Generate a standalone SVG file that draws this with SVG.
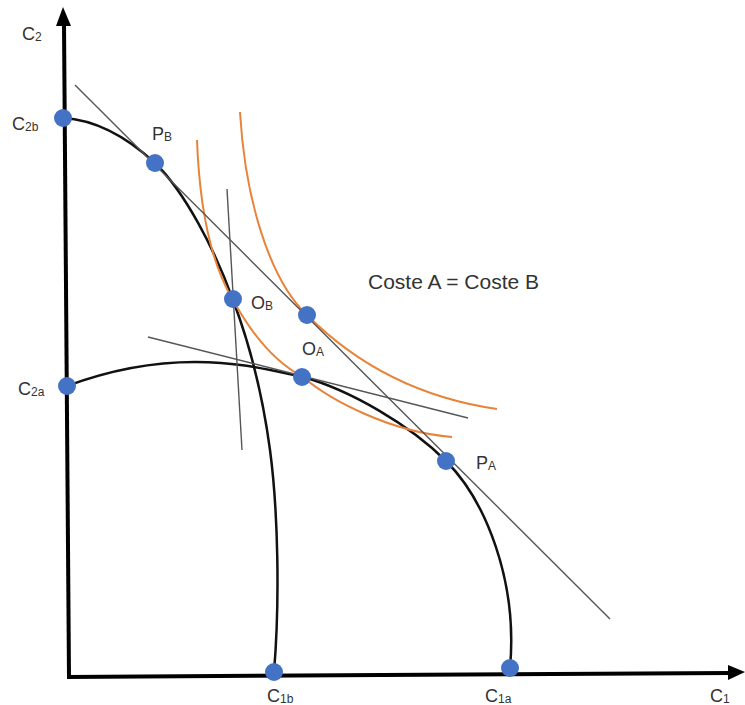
<svg xmlns="http://www.w3.org/2000/svg" width="745" height="705" viewBox="0 0 745 705">
<style>
.axis{stroke:#000;stroke-width:4;fill:none}
.curve{stroke:#111;stroke-width:2.5;fill:none}
.iso{stroke:#E8833A;stroke-width:2;fill:none}
.tan{stroke:#555;stroke-width:1.4;fill:none}
.dot{fill:#4472C4}
.lbl{font-family:"Liberation Sans",Arial,sans-serif;font-size:18px;fill:#333}
.sub{font-size:12px}
</style>
<rect width="745" height="705" fill="#fff"/>
<g id="axes">
<path class="axis" d="M69,677 L64,24"/>
<polygon points="63,7 56,26 71,26" fill="#000"/>
<path class="axis" d="M67,677 L730,673"/>
<polygon points="745,672 728,665 728,680" fill="#000"/>
</g>
<g id="connectors">
<path id="curveB" class="curve" d="M63,118 C100,120 130,140 155,163 C185,192 215,250 233,300 C250,345 262,390 270,450 C278,510 280,600 274,672"/>
<path id="curveA" class="curve" d="M67,386 C110,370 150,362 195,362 C240,362 270,370 303,377 C350,390 410,425 446,461 C485,500 518,580 510,668"/>
<path id="isoLow" class="iso" d="M197,140 C200,220 215,270 233,300 C255,340 280,365 303,377 C330,400 390,432 452,437"/>
<path id="isoHigh" class="iso" d="M240,112 C245,200 270,280 307,315 C340,348 400,395 497,409"/>
<line class="tan" x1="75" y1="85" x2="610" y2="619"/>
<line class="tan" x1="227" y1="189" x2="242" y2="450"/>
<line class="tan" x1="148" y1="337" x2="468" y2="418"/>
</g>
<g id="C2"><text class="lbl" x="22" y="40">C<tspan class="sub" dy="1">2</tspan></text></g>
<g id="C2b"><circle class="dot" cx="63" cy="118" r="9"/><text class="lbl" x="12" y="130">C<tspan class="sub" dy="1">2b</tspan></text></g>
<g id="PB"><circle class="dot" cx="155" cy="163" r="9"/><text class="lbl" x="152" y="140">P<tspan class="sub" dy="1">B</tspan></text></g>
<g id="OB"><circle class="dot" cx="233" cy="299" r="9"/><text class="lbl" x="251" y="309">O<tspan class="sub" dy="1">B</tspan></text></g>
<g id="OAu"><circle class="dot" cx="307" cy="315" r="9"/></g>
<g id="OA"><circle class="dot" cx="302" cy="377" r="9"/><text class="lbl" x="302" y="355">O<tspan class="sub" dy="1">A</tspan></text></g>
<g id="C2a"><circle class="dot" cx="67" cy="386" r="9"/><text class="lbl" x="18" y="395">C<tspan class="sub" dy="1">2a</tspan></text></g>
<g id="PA"><circle class="dot" cx="446" cy="461" r="9"/><text class="lbl" x="476" y="469">P<tspan class="sub" dy="1">A</tspan></text></g>
<g id="C1b"><circle class="dot" cx="274" cy="672" r="9"/><text class="lbl" x="267" y="702">C<tspan class="sub" dy="1">1b</tspan></text></g>
<g id="C1a"><circle class="dot" cx="510" cy="668" r="9"/><text class="lbl" x="485" y="702">C<tspan class="sub" dy="1">1a</tspan></text></g>
<g id="C1"><text class="lbl" x="710" y="702">C<tspan class="sub" dy="1">1</tspan></text></g>
<g id="coste"><text class="lbl" x="368" y="289" style="font-size:21px">Coste A = Coste B</text></g>
</svg>
